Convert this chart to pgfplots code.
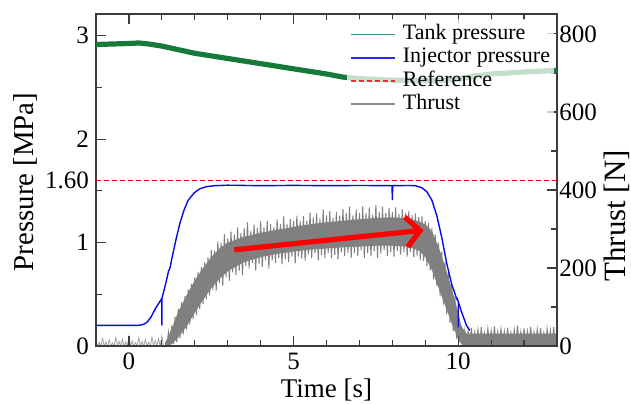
\documentclass[border=0pt]{standalone}
\usepackage{pgfplots}
\pgfplotsset{compat=1.18}
\usepackage{fontspec}
\setmainfont{Liberation Serif}
\usetikzlibrary{arrows.meta}

\definecolor{tankgreen}{RGB}{22,122,58}
\definecolor{tanklegend}{RGB}{50,160,110}
\definecolor{injblue}{RGB}{10,10,230}
\definecolor{injlegend}{RGB}{40,40,240}
\definecolor{reflegend}{RGB}{230,50,50}
\definecolor{thrustgray}{RGB}{128,128,128}
\definecolor{thrustlegend}{RGB}{140,140,140}
\definecolor{axgray}{RGB}{60,60,60}

\pgfplotsset{
  common/.style={
    scale only axis, width=230.5pt, height=166pt,
    xmin=-1, xmax=13,
    at={(0,0)}, anchor=south west,
    /pgf/number format/assume math mode=true,
    tick align=inside,
    major tick length=5pt, minor tick length=3pt,
    axis line style={axgray, line width=0.6pt},
    every tick/.style={axgray, line width=0.6pt},
    tick label style={font=\fontsize{12.5}{12.5}\selectfont},
  }
}

\begin{document}
\begin{tikzpicture}
% ---------------- Thrust (right axis) ----------------
\begin{axis}[common,
  ymin=0, ymax=851,
  axis y line*=right, axis x line=none,
  ytick={0,200,400,600,800}, minor ytick={100,300,500,700},
  yticklabel style={inner xsep=1pt},
  ylabel={Thrust [N]},
  ylabel style={font=\fontsize{15.5}{15.5}\selectfont, at={(axis description cs:1.129,0.392)}, anchor=center},
]
% core band
\addplot[fill=thrustgray, draw=none, forget plot] coordinates {
(1.10,8)(1.30,45)(1.50,88)(1.75,130)(2.00,168)(2.25,200)(2.50,228)(2.75,250)(3.00,265)(3.50,280)(4.00,290)(4.50,298)(5.00,305)(5.50,312)(6.00,317)(6.50,321)(7.00,325)(7.50,328)(8.00,330)(8.50,326)(8.80,320)(9.00,312)(9.20,295)(9.40,255)(9.60,205)(9.80,148)(10.00,85)(10.10,50)(10.25,32)(13.00,32)
(13.00,0)(10.25,0)(10.10,4)(10.00,18)(9.80,58)(9.60,105)(9.40,150)(9.20,195)(9.00,228)(8.80,245)(8.50,254)(8.00,257)(7.50,257)(7.00,255)(6.50,253)(6.00,250)(5.50,247)(5.00,242)(4.50,236)(4.00,228)(3.50,215)(3.00,192)(2.75,172)(2.50,148)(2.25,118)(2.00,85)(1.75,50)(1.50,22)(1.30,5)(1.10,0)
} -- cycle;
% pre-burn baseline spikes
\addplot[thrustgray!70, line width=0.4pt, forget plot] coordinates {
(-1.00,14)(-0.95,0)(-0.90,9)(-0.85,0)(-0.80,20)(-0.75,0)(-0.70,11)(-0.65,0)(-0.60,16)(-0.55,0)
(-0.50,8)(-0.45,0)(-0.40,22)(-0.35,0)(-0.30,12)(-0.25,0)(-0.20,18)(-0.15,0)(-0.10,10)(-0.05,0)
(0.00,24)(0.05,0)(0.10,13)(0.15,0)(0.20,9)(0.25,0)(0.30,21)(0.35,0)(0.40,12)(0.45,0)
(0.50,17)(0.55,0)(0.60,10)(0.65,0)(0.70,23)(0.75,0)(0.80,14)(0.85,0)(0.90,19)(0.95,0)(1.00,26)(1.05,0)
};
% burn spikes
\addplot[thrustgray, line width=0.5pt, forget plot] coordinates {
(1.10,10)(1.15,0)(1.20,35)(1.25,0)(1.30,52)(1.35,5)(1.40,75)(1.45,10)(1.50,96)(1.55,20)
(1.60,112)(1.65,30)(1.70,128)(1.75,42)(1.80,145)(1.85,55)(1.90,160)(1.95,68)(2.00,176)(2.05,80)
(2.10,190)(2.15,95)(2.20,203)(2.25,108)(2.30,214)(2.35,120)
(2.40,227)(2.45,130)(2.50,246)(2.55,144)(2.60,245)(2.65,142)(2.70,268)(2.75,162)(2.80,265)(2.85,155)
(2.90,287)(2.95,176)(3.00,275)(3.05,167)(3.10,293)(3.15,189)(3.20,286)(3.25,182)(3.30,304)(3.35,193)
(3.40,289)(3.45,182)(3.50,302)(3.55,204)(3.60,317)(3.65,199)(3.70,294)(3.75,213)(3.80,311)(3.85,194)
(3.90,303)(3.95,211)(4.00,320)(4.05,203)(4.10,304)(4.15,220)(4.20,321)(4.25,199)(4.30,313)(4.35,219)
(4.40,304)(4.45,213)(4.50,324)(4.55,226)(4.60,313)(4.65,209)(4.70,332)(4.75,222)(4.80,312)(4.85,216)
(4.90,325)(4.95,229)(5.00,321)(5.05,212)(5.10,334)(5.15,229)(5.20,320)(5.25,224)(5.30,333)(5.35,219)
(5.40,320)(5.45,234)(5.50,342)(5.55,225)(5.60,329)(5.65,238)(5.70,340)(5.75,220)(5.80,327)(5.85,233)
(5.90,350)(5.95,225)(6.00,335)(6.05,238)(6.10,346)(6.15,225)(6.20,329)(6.25,233)(6.30,343)(6.35,222)
(6.40,334)(6.45,240)(6.50,351)(6.55,231)(6.60,340)(6.65,239)(6.70,357)(6.75,226)(6.80,335)(6.85,238)
(6.90,350)(6.95,231)(7.00,341)(7.05,245)(7.10,358)(7.15,225)(7.20,340)(7.25,238)(7.30,355)(7.35,230)
(7.40,337)(7.45,243)(7.50,362)(7.55,225)(7.60,344)(7.65,237)(7.70,357)(7.75,245)(7.80,341)(7.85,231)
(7.90,354)(7.95,241)(8.00,344)(8.05,229)(8.10,355)(8.15,244)(8.20,338)(8.25,234)(8.30,350)(8.35,241)
(8.40,341)(8.45,229)(8.50,346)(8.55,241)(8.60,336)(8.65,228)(8.70,340)(8.75,232)(8.80,330)(8.85,220)
(8.90,332)(8.95,218)(9.00,320)(9.05,204)(9.10,316)(9.15,194)(9.20,303)(9.25,171)(9.30,287)(9.35,153)
(9.40,265)(9.45,127)(9.50,242)(9.55,106)(9.60,215)(9.65,82)(9.70,189)(9.75,60)(9.80,158)(9.85,38)
(9.90,127)(9.95,18)(10.00,95)(10.05,10)
(10.10,52)(10.15,2)(10.20,40)(10.25,0)(10.30,38)(10.35,3)(10.40,46)(10.45,0)(10.50,35)(10.55,4)
(10.60,42)(10.65,0)(10.70,48)(10.75,2)(10.80,33)(10.85,0)(10.90,44)(10.95,5)(11.00,39)(11.05,0)
(11.10,50)(11.15,3)(11.20,36)(11.25,0)(11.30,43)(11.35,2)(11.40,37)(11.45,0)(11.50,47)(11.55,4)
(11.60,34)(11.65,0)(11.70,41)(11.75,3)(11.80,52)(11.85,0)(11.90,36)(11.95,2)(12.00,45)(12.05,0)
(12.10,38)(12.15,4)(12.20,49)(12.25,0)(12.30,35)(12.35,3)(12.40,42)(12.45,0)(12.50,46)(12.55,2)
(12.60,33)(12.65,0)(12.70,44)(12.75,5)(12.80,40)(12.85,0)(12.90,48)(12.95,2)(13.00,37)
};
\end{axis}

% ---------------- Pressure (left axis) ----------------
\begin{axis}[common,
  ymin=0, ymax=3.21,
  ytick={0,1,2,3}, minor ytick={0.5,1.5,2.5},
  ytick pos=left,
  extra y ticks={1.6}, extra y tick labels={1.60},
  extra y tick style={major tick length=0pt},
  xtick={0,5,10}, minor xtick={1,2,3,4,6,7,8,9,11,12},
  xlabel={Time [s]},
  xlabel style={font=\fontsize{13.5}{13.5}\selectfont, at={(axis description cs:0.5,-0.1325)}, anchor=center},
  ylabel={Pressure [MPa]},
  ylabel style={font=\fontsize{14.4}{14.4}\selectfont, at={(axis description cs:-0.153,0.494)}, anchor=center},
  legend style={at={(axis description cs:0.995,0.986)}, anchor=north east,
    draw=none, fill=white, fill opacity=0.75, text opacity=1, draw opacity=1,
    font=\fontsize{11}{11}\selectfont, inner xsep=1.5pt, inner ysep=2pt,
    nodes={inner sep=0.6pt, text height=7.7pt, text depth=2.7pt}, row sep=0pt, cells={anchor=west}},
  legend image code/.code={\draw[#1, opacity=1] (0pt,0pt) -- (22pt,0pt); \path (25pt,0pt);},
]
% tank pressure
\addplot[tankgreen, line width=2.6pt, line join=round, forget plot] coordinates {
(-1,2.915)(-0.5,2.92)(0,2.925)(0.3,2.93)(0.6,2.92)(1,2.90)(2,2.83)(3,2.78)(4,2.73)(5,2.68)(6,2.63)(6.5,2.60)(7,2.585)(8,2.57)(9,2.565)(9.5,2.565)(10,2.58)(10.5,2.61)(11,2.63)(12,2.65)(13,2.665)
};
% reference
\addplot[red, line width=0.5pt, dash pattern=on 2.5pt off 1.5pt, forget plot] coordinates {(-1,1.6)(13,1.6)};
% injector pressure
\addplot[injblue, line width=0.7pt, forget plot] coordinates {
(-1,0.20)(0.3,0.20)(0.45,0.21)(0.55,0.23)(0.67,0.28)(0.8,0.36)(0.9,0.41)(1.0,0.46)(1.0,0.20)(1.0,0.46)
(1.1,0.58)(1.2,0.72)(1.25,0.76)(1.3,0.84)(1.43,1.03)(1.55,1.19)(1.68,1.32)(1.8,1.41)(1.98,1.48)(2.15,1.52)(2.35,1.54)(2.6,1.55)
(3,1.555)(4,1.55)(5,1.553)(6,1.55)(7,1.552)(7.99,1.55)(8.0,1.41)(8.01,1.55)(8.5,1.552)(8.7,1.55)
(8.9,1.53)(9.05,1.49)(9.2,1.41)(9.35,1.26)(9.5,1.05)(9.65,0.80)(9.8,0.60)(9.95,0.46)(10.0,0.43)(10.0,0.18)(10.0,0.43)
(10.1,0.33)(10.25,0.20)(10.35,0.15)
};
% annotation arrow
\addplot[red, line width=2.6pt, -{Straight Barb[length=7pt,width=15pt]}, forget plot] coordinates {(3.2,0.93)(8.95,1.12)};
% legend
\addlegendimage{tanklegend, line width=0.8pt}
\addlegendentry{Tank pressure}
\addlegendimage{injlegend, line width=0.8pt}
\addlegendentry{Injector pressure}
\addlegendimage{reflegend, line width=0.7pt, dash pattern=on 2.5pt off 1.5pt}
\addlegendentry{Reference}
\addlegendimage{thrustlegend, line width=0.8pt}
\addlegendentry{Thrust}
\end{axis}
\pgfresetboundingbox
\path (-48pt,-28.5pt) rectangle (267.5pt,173pt);
\end{tikzpicture}
\end{document}
